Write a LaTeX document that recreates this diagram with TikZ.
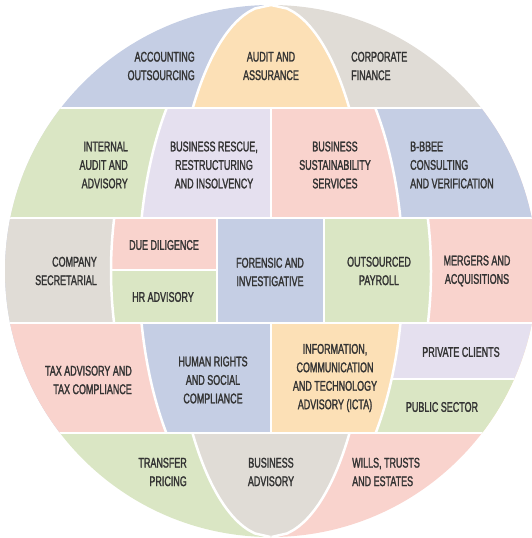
\documentclass[tikz,border=0pt]{standalone}
\usepackage{fontspec}
\setmainfont{Liberation Sans}[FakeStretch=0.64, FakeBold=1.6]
\usepackage{tikz}

\definecolor{cblue}{HTML}{C5CEE4}
\definecolor{corange}{HTML}{FCE0B6}
\definecolor{cgray}{HTML}{E0DCD6}
\definecolor{cgreen}{HTML}{DAE6C4}
\definecolor{clav}{HTML}{E5E0EF}
\definecolor{cpink}{HTML}{F9D3CD}
\definecolor{ctext}{HTML}{333333}

\begin{document}
\begin{tikzpicture}[x=1pt, y=-1pt,
    declare function={mx(\a,\y)=271+\a*sqrt(max(0,1-((\y-271)/266)^2));},
    lbl/.style={font=\fontsize{14}{18.5}\selectfont, text=ctext, inner sep=0pt},
    gap/.style={white, line width=2.5pt},
    every plot/.style={samples=30}]

    \useasboundingbox (0,0) rectangle (532,538);

    \begin{scope}
    \clip (271,271) circle[radius=266];
    % top band
    \fill[cblue] (0,0) rectangle (271,108);
    \fill[cgray] (271,0) rectangle (532,108);
    \fill[corange] plot[domain=5:108] ({mx(-99,\x)},\x) -- plot[domain=108:5] ({mx(99,\x)},\x) -- cycle;
    % second band
    \fill[clav] (0,108) rectangle (271,218);
    \fill[cpink] (271,108) rectangle (532,218);
    \fill[cgreen] (0,108) -- plot[domain=108:218] ({mx(-132,\x)},\x) -- (0,218) -- cycle;
    \fill[cblue] (532,108) -- plot[domain=108:218] ({mx(132,\x)},\x) -- (532,218) -- cycle;
    % middle band
    \fill[cblue] (0,218) rectangle (532,323);
    \fill[cgray] (0,218) -- plot[domain=218:323] ({mx(-160,\x)},\x) -- (0,323) -- cycle;
    \fill[cpink] plot[domain=218:270] ({mx(-160,\x)},\x) -- (217,270) -- (217,218) -- cycle;
    \fill[cgreen] plot[domain=270:323] ({mx(-160,\x)},\x) -- (217,323) -- (217,270) -- cycle;
    \fill[cgreen] (324,218) -- plot[domain=218:323] ({mx(160,\x)},\x) -- (324,323) -- cycle;
    \fill[cpink] (532,218) -- plot[domain=218:323] ({mx(160,\x)},\x) -- (532,323) -- cycle;
    % fourth band
    \fill[cblue] (0,323) rectangle (271,433);
    \fill[corange] (271,323) rectangle (532,433);
    \fill[cpink] (0,323) -- plot[domain=323:433] ({mx(-132,\x)},\x) -- (0,433) -- cycle;
    \fill[clav] (532,323) -- plot[domain=323:379] ({mx(132,\x)},\x) -- (532,379) -- cycle;
    \fill[cgreen] (532,379) -- plot[domain=379:433] ({mx(132,\x)},\x) -- (532,433) -- cycle;
    % bottom band
    \fill[cgreen] (0,433) rectangle (271,538);
    \fill[cpink] (271,433) rectangle (532,538);
    \fill[cgray] plot[domain=433:537] ({mx(-99,\x)},\x) -- plot[domain=537:433] ({mx(99,\x)},\x) -- cycle;

    % white gaps
    \foreach \y in {108,218,323,433}
        \draw[gap] (0,\y) -- (532,\y);
    \draw[gap] plot[domain=5:108] ({mx(-99,\x)},\x);
    \draw[gap] plot[domain=5:108] ({mx(99,\x)},\x);
    \draw[gap] plot[domain=433:537] ({mx(-99,\x)},\x);
    \draw[gap] plot[domain=433:537] ({mx(99,\x)},\x);
    \draw[gap] plot[domain=108:218] ({mx(-132,\x)},\x);
    \draw[gap] plot[domain=108:218] ({mx(132,\x)},\x);
    \draw[gap] plot[domain=323:433] ({mx(-132,\x)},\x);
    \draw[gap] plot[domain=323:433] ({mx(132,\x)},\x);
    \draw[gap] plot[domain=218:323] ({mx(-160,\x)},\x);
    \draw[gap] plot[domain=218:323] ({mx(160,\x)},\x);
    \draw[gap] (271,108) -- (271,218);
    \draw[gap] (271,323) -- (271,433);
    \draw[gap] (217,218) -- (217,323);
    \draw[gap] (324,218) -- (324,323);
    \draw[gap] ({mx(-160,270)},270) -- (217,270);
    \draw[gap] ({mx(132,379)},379) -- (532,379);
    \end{scope}

    \node[lbl, align=right, anchor=east] (acc) at (195,66) {ACCOUNTING\\OUTSOURCING};
    \node[lbl, align=center] (aud) at (271,66) {AUDIT AND\\ASSURANCE};
    \node[lbl, align=left, anchor=west] (corp) at (351,66) {CORPORATE\\FINANCE};
    \node[lbl, align=right, anchor=east] (int) at (128,165) {INTERNAL\\AUDIT AND\\ADVISORY};
    \node[lbl, align=center] (resc) at (214,165) {BUSINESS RESCUE,\\RESTRUCTURING\\AND INSOLVENCY};
    \node[lbl, align=center] (sust) at (335,165) {BUSINESS\\SUSTAINABILITY\\SERVICES};
    \node[lbl, align=left, anchor=west] (bbee) at (410,165) {B-BBEE\\CONSULTING\\AND VERIFICATION};
    \node[lbl, align=right, anchor=east] (sec) at (97,271) {COMPANY\\SECRETARIAL};
    \node[lbl] (due) at (164,245) {DUE DILIGENCE};
    \node[lbl] (hr) at (163,297) {HR ADVISORY};
    \node[lbl, align=center] (for) at (270,272) {FORENSIC AND\\INVESTIGATIVE};
    \node[lbl, align=center] (pay) at (379,271) {OUTSOURCED\\PAYROLL};
    \node[lbl, align=center] (merg) at (477,271) {MERGERS AND\\ACQUISITIONS};
    \node[lbl, align=right, anchor=east] (tax) at (132,380) {TAX ADVISORY AND\\TAX COMPLIANCE};
    \node[lbl, align=center] (hum) at (213,380) {HUMAN RIGHTS\\AND SOCIAL\\COMPLIANCE};
    \node[lbl, align=center] (icta) at (335,378) {INFORMATION,\\COMMUNICATION\\AND TECHNOLOGY\\ADVISORY (ICTA)};
    \node[lbl] (priv) at (461,352) {PRIVATE CLIENTS};
    \node[lbl] (pub) at (442,407) {PUBLIC SECTOR};
    \node[lbl, align=right, anchor=east] (trans) at (187,472) {TRANSFER\\PRICING};
    \node[lbl, align=center] (badv) at (271,472) {BUSINESS\\ADVISORY};
    \node[lbl, align=left, anchor=west] (wills) at (352,472) {WILLS, TRUSTS\\AND ESTATES};
\end{tikzpicture}
\end{document}
